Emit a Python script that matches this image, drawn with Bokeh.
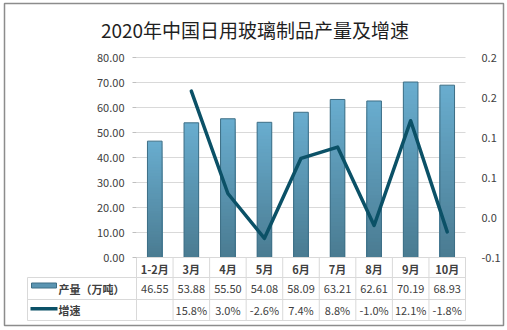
from bokeh.plotting import figure
from bokeh.models import (Range1d, LinearAxis, FixedTicker, NumeralTickFormatter,
                          CustomJSTickFormatter)
from bokeh.core.properties import value
from bokeh.embed import file_html
from bokeh.resources import INLINE

# ---------------- data ----------------
title_text = "2020年中国日用玻璃制品产量及增速"
categories = ["1-2月", "3月", "4月", "5月", "6月", "7月", "8月", "9月", "10月"]
output = [46.55, 53.88, 55.50, 54.08, 58.09, 63.21, 62.61, 70.19, 68.93]
growth = [None, 15.8, 3.0, -2.6, 7.4, 8.8, -1.0, 12.1, -1.8]   # percent
series_names = ["产量（万吨）", "增速"]
left_ticks = [0, 10, 20, 30, 40, 50, 60, 70, 80]
right_ticks = [-0.05, 0.0, 0.05, 0.10, 0.15, 0.20]

# ---------------- layout (pixels) ----------------
W, H = 507, 330
BL, BR, BT, BB = 4, 503, 3, 325      # outer frame (border box)
PL, PR, PT = 136, 465, 57            # plot area
ZERO = 257                           # pixel row of value 0
PXU = 2.5                            # pixels per left-axis unit
n = len(categories)
CW = (PR - PL) / n
xpos = [i + 0.5 for i in range(n)]


def xd(px):
    return (px - PL) / CW


def yd(py):
    return (ZERO - py) / PXU


g_per_px = (right_ticks[-1] - right_ticks[0]) / (ZERO - PT)


def gd(py):
    return right_ticks[0] + (ZERO - py) * g_per_px


FONT = "Noto Sans CJK SC"
TXT = "#404040"
GRID = "#D9D9D9"

p = figure(width=W, height=H,
           x_range=Range1d(xd(BL), xd(BR)),
           y_range=Range1d(yd(BB), yd(BT)),
           output_backend="svg", toolbar_location=None, title=None,
           x_axis_location=None,
           min_border_left=BL, min_border_right=W - BR,
           min_border_top=BT, min_border_bottom=H - BB)
p.outline_line_color = "#8C8C8C"
p.outline_line_width = 1.5
p.background_fill_color = "white"
p.border_fill_color = "white"
p.xgrid.visible = False
p.ygrid.visible = False

ya = p.yaxis[0]
ya.fixed_location = 0
ya.ticker = FixedTicker(ticks=left_ticks)
ya.formatter = NumeralTickFormatter(format="0.00")
ya.axis_line_color = None
ya.major_tick_line_color = "#BFBFBF"
ya.major_tick_out = 4
ya.major_tick_in = 0
ya.minor_tick_line_color = None
ya.major_label_standoff = 8
ya.major_label_text_font = FONT
ya.major_label_text_font_size = "11px"
ya.major_label_text_color = TXT

p.extra_y_ranges = {"g": Range1d(gd(BB), gd(BT))}
ra = LinearAxis(y_range_name="g", ticker=FixedTicker(ticks=right_ticks), fixed_location=n,
                formatter=CustomJSTickFormatter(code="""
const s = tick < 0 ? -1 : 1;
const v = s * Math.round(Math.abs(tick) * 10 + 1e-9) / 10;
return v.toFixed(1);
"""))
ra.axis_line_color = None
ra.major_tick_line_color = None
ra.minor_tick_line_color = None
ra.major_label_standoff = 10
ra.major_label_text_font = FONT
ra.major_label_text_font_size = "11px"
ra.major_label_text_color = TXT
p.add_layout(ra, "right")

# gridlines of the plot area only
p.segment(x0=[0] * len(left_ticks), x1=[n] * len(left_ticks), y0=left_ticks, y1=left_ticks,
          line_color=GRID, line_width=1)

# ---------------- bars with vertical gradient ----------------
N = 40
top_c = (0x69, 0xAD, 0xCF)
bot_c = (0x4A, 0x7B, 0x91)
bx, bt, bc = [], [], []
for k in range(N):
    f = (N - k - 0.5) / N
    col = "#%02x%02x%02x" % tuple(round(b + (t - b) * f) for b, t in zip(bot_c, top_c))
    for x, v in zip(xpos, output):
        bx.append(x)
        bt.append(v * (N - k) / N)
        bc.append(col)
p.vbar(x=bx, bottom=0, top=bt, width=0.4, fill_color=bc, line_color=None)
p.vbar(x=xpos, top=output, width=0.4, fill_color=None, line_color="#3E6F86", line_width=1)

# ---------------- growth line ----------------
gx = [x for x, g in zip(xpos, growth) if g is not None]
gy = [g / 100 for g in growth if g is not None]
p.line(x=gx, y=gy, y_range_name="g", line_color="#0B5167", line_width=3.5,
       line_join="round", line_cap="round")

# ---------------- data table ----------------
TL = xd(27)
hl = [(0, n, ZERO)] + [(TL, n, r) for r in (277, 299, 320)]
p.segment(x0=[a for a, b, r in hl], x1=[b for a, b, r in hl],
          y0=[yd(r) for a, b, r in hl], y1=[yd(r) for a, b, r in hl],
          line_color=GRID, line_width=1)
p.segment(x0=list(range(n + 1)), x1=list(range(n + 1)),
          y0=[yd(ZERO)] * (n + 1), y1=[yd(320)] * (n + 1),
          line_color=GRID, line_width=1)
p.segment(x0=[TL], x1=[TL], y0=[yd(277)], y1=[yd(320)], line_color=GRID, line_width=1)

p.text(x=xpos, y=[yd(268)] * n, text=categories,
       text_align="center", text_baseline="middle",
       text_font=value(FONT), text_font_size="11px", text_font_style="bold", text_color=TXT)
p.text(x=xpos, y=[yd(288)] * n, text=["%.2f" % v for v in output],
       text_align="center", text_baseline="middle",
       text_font=value(FONT), text_font_size="11px", text_color=TXT)
p.text(x=gx, y=[yd(309.5)] * len(gx), text=["%.1f%%" % g for g in growth if g is not None],
       text_align="center", text_baseline="middle",
       text_font=value(FONT), text_font_size="11px", text_color=TXT)

# legend swatches + names
p.quad(left=[xd(31)], right=[xd(56)], top=[yd(282.5)], bottom=[yd(287.5)],
       fill_color="#5B95B2", line_color="#3E6F86", line_width=1)
p.quad(left=[xd(30)], right=[xd(57)], top=[yd(306.5)], bottom=[yd(310)],
       fill_color="#0B5167", line_color=None)
p.text(x=[xd(58)] * 2, y=[yd(288), yd(309.5)], text=series_names,
       text_align="left", text_baseline="middle",
       text_font=value(FONT), text_font_size="11px", text_font_style="bold", text_color=TXT)

# title
p.text(x=[xd(254.5)], y=[yd(28.5)], text=[title_text], text_align="center",
       text_baseline="middle", text_font=value(FONT), text_font_size="19px",
       text_color="#1F1F1F")

open("out.html", "w").write(file_html(p, INLINE))
